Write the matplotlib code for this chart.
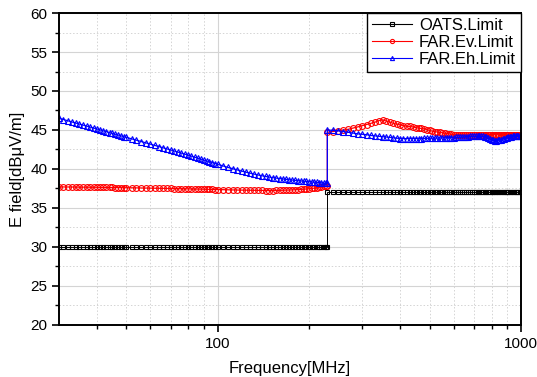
import matplotlib

matplotlib.use("Agg")
import matplotlib.pyplot as plt
from matplotlib.ticker import FixedLocator, MultipleLocator, NullFormatter

plt.rcParams["font.family"] = ["Liberation Sans", "DejaVu Sans"]

# ── 数据：从图上读出 ────────────────────────────────────────────────
FREQ_LO = [30, 31, 32, 33, 34, 35, 36, 37, 38, 39, 40, 41, 42, 43, 44, 45, 46, 47, 48, 49, 50,
           52, 54, 56, 58, 60, 62, 64, 66, 68, 70, 72, 74, 76, 78, 80, 82, 84, 86, 88, 90,
           92, 94, 96, 98, 100,
           104, 108, 112, 116, 120, 124, 128, 132, 136, 140, 144, 148, 152, 156, 160, 164,
           168, 172, 176, 180, 184, 188, 192, 196, 200, 204, 208, 212, 216, 220, 224, 228, 230]

FREQ_HI = [230, 240, 250, 260, 270, 280, 290, 300, 310, 320, 330, 340, 350, 360, 370, 380,
           390, 400, 410, 420, 430, 440, 450, 460, 470, 480, 490, 500, 510, 520, 530, 540,
           550, 560, 570, 580, 590, 600, 610, 620, 630, 640, 650, 660, 670, 680, 690, 700,
           710, 720, 730, 740, 750, 760, 770, 780, 790, 800, 810, 820, 830, 840, 850, 860,
           870, 880, 890, 900, 910, 920, 930, 940, 950, 960, 970, 980, 990, 1000]

OATS_LO = [30.0] * len(FREQ_LO)
OATS_HI = [37.0] * len(FREQ_HI)

EV_LO = [37.70, 37.70, 37.69, 37.69, 37.68, 37.68, 37.67, 37.67, 37.66, 37.66, 37.65, 37.65,
         37.64, 37.64, 37.63, 37.63, 37.62, 37.62, 37.61, 37.61, 37.60,
         37.59, 37.58, 37.57, 37.56, 37.55, 37.54, 37.53, 37.52, 37.51, 37.50, 37.49, 37.48,
         37.47, 37.46, 37.45, 37.45, 37.44, 37.43, 37.42, 37.41, 37.40, 37.39, 37.38, 37.37,
         37.36,
         37.35, 37.33, 37.31, 37.30, 37.29, 37.28, 37.27, 37.26, 37.25, 37.25, 37.24, 37.24,
         37.24, 37.25, 37.26, 37.27, 37.28, 37.30, 37.32, 37.34, 37.36, 37.38, 37.40, 37.43,
         37.46, 37.50, 37.54, 37.59, 37.64, 37.70, 37.76, 37.82, 37.85]

EV_HI = [44.70, 44.80, 44.90, 45.00, 45.10, 45.25, 45.40, 45.55, 45.70, 45.85, 46.00, 46.20,
         46.30, 46.15, 46.00, 45.85, 45.75, 45.65, 45.55, 45.50, 45.45, 45.40, 45.30, 45.25,
         45.20, 45.15, 45.05, 44.95, 44.85, 44.80, 44.75, 44.70, 44.65, 44.60, 44.55, 44.50,
         44.45, 44.42, 44.40, 44.38, 44.36, 44.35, 44.34, 44.33, 44.32, 44.32, 44.32, 44.33,
         44.35, 44.37, 44.38, 44.39, 44.40, 44.40, 44.40, 44.40, 44.40, 44.40, 44.40, 44.40,
         44.40, 44.40, 44.40, 44.40, 44.40, 44.40, 44.40, 44.39, 44.38, 44.37, 44.36, 44.35,
         44.34, 44.33, 44.32, 44.31, 44.30, 44.30]

EH_LO = [46.50, 46.34, 46.19, 46.04, 45.90, 45.76, 45.63, 45.50, 45.37, 45.25, 45.13, 45.01,
         44.89, 44.78, 44.67, 44.56, 44.46, 44.36, 44.25, 44.16, 44.06,
         43.87, 43.69, 43.52, 43.35, 43.19, 43.03, 42.88, 42.73, 42.58, 42.44, 42.30, 42.16,
         42.03, 41.90, 41.77, 41.64, 41.51, 41.39, 41.27, 41.15, 41.03, 40.92, 40.81, 40.70,
         40.59,
         40.40, 40.21, 40.04, 39.88, 39.73, 39.59, 39.46, 39.34, 39.23, 39.13, 39.04, 38.96,
         38.89, 38.83, 38.77, 38.72, 38.67, 38.62, 38.58, 38.54, 38.50, 38.47, 38.44, 38.41,
         38.38, 38.35, 38.32, 38.29, 38.26, 38.23, 38.20, 38.18, 38.15]

EH_HI = [45.00, 44.95, 44.90, 44.80, 44.70, 44.60, 44.50, 44.45, 44.40, 44.30, 44.25, 44.20,
         44.15, 44.10, 44.05, 44.00, 43.95, 43.90, 43.90, 43.90, 43.90, 43.90, 43.90, 43.90,
         43.90, 43.92, 43.93, 43.94, 43.95, 43.96, 43.97, 43.98, 43.99, 44.00, 44.00, 44.01,
         44.02, 44.03, 44.05, 44.07, 44.09, 44.10, 44.12, 44.14, 44.16, 44.18, 44.20, 44.20,
         44.20, 44.20, 44.20, 44.20, 44.18, 44.15, 44.08, 43.95, 43.82, 43.72, 43.67, 43.65,
         43.65, 43.67, 43.70, 43.75, 43.80, 43.88, 43.95, 44.02, 44.08, 44.12, 44.15, 44.17,
         44.18, 44.19, 44.20, 44.20, 44.20, 44.20]

SERIES = [
    ("OATS.Limit", OATS_LO, OATS_HI, "black", "s", 3.0, 0.7),
    ("FAR.Ev.Limit", EV_LO, EV_HI, "red", "o", 4.2, 0.9),
    ("FAR.Eh.Limit", EH_LO, EH_HI, "blue", "^", 4.2, 0.9),
]

fig = plt.figure(figsize=(5.37, 3.77), dpi=100)
ax = fig.add_axes([0.110, 0.138, 0.860, 0.8275])

for name, lo, hi, color, marker, ms, lw in SERIES:
    x = FREQ_LO + FREQ_HI
    y = lo + hi
    ax.plot(x, y, color=color, lw=lw, marker=marker, ms=ms, mfc="none",
            mec=color, mew=0.8, label=name)

ax.set_xscale("log")
ax.set_xlim(30, 1000)
ax.set_ylim(20, 60)
ax.set_xticks([100, 1000])
ax.set_xticklabels(["100", "1000"])
ax.xaxis.set_minor_locator(FixedLocator([40, 50, 60, 70, 80, 90, 200, 300, 400, 500,
                                         600, 700, 800, 900]))
ax.xaxis.set_minor_formatter(NullFormatter())
ax.yaxis.set_major_locator(MultipleLocator(5))
ax.yaxis.set_minor_locator(MultipleLocator(2.5))

ax.grid(which="major", color="#d4d4d4", lw=0.8, ls="-")
ax.grid(which="minor", color="#d4d4d4", lw=0.7, ls=(0, (1.5, 2)))
ax.set_axisbelow(True)

for sp in ax.spines.values():
    sp.set_linewidth(1.4)
ax.tick_params(which="major", direction="out", length=5, width=1.2, labelsize=11,
               colors="black")
ax.tick_params(which="minor", direction="out", length=3, width=1.0)

ax.set_xlabel("Frequency[MHz]", fontsize=12, labelpad=7)
ax.set_ylabel("E field[dB\u03bcV/m]", fontsize=12, labelpad=4)

leg = ax.legend(loc="upper right", borderaxespad=0, fancybox=False, framealpha=1,
                edgecolor="black", fontsize=12, handlelength=2.4, handletextpad=0.4,
                labelspacing=0.12, borderpad=0.3, numpoints=1)
leg.get_frame().set_linewidth(1.0)
for line in leg.get_lines():
    line.set_linewidth(0.8)
    line.set_markersize(3)

fig.savefig("out.png", dpi=100)
